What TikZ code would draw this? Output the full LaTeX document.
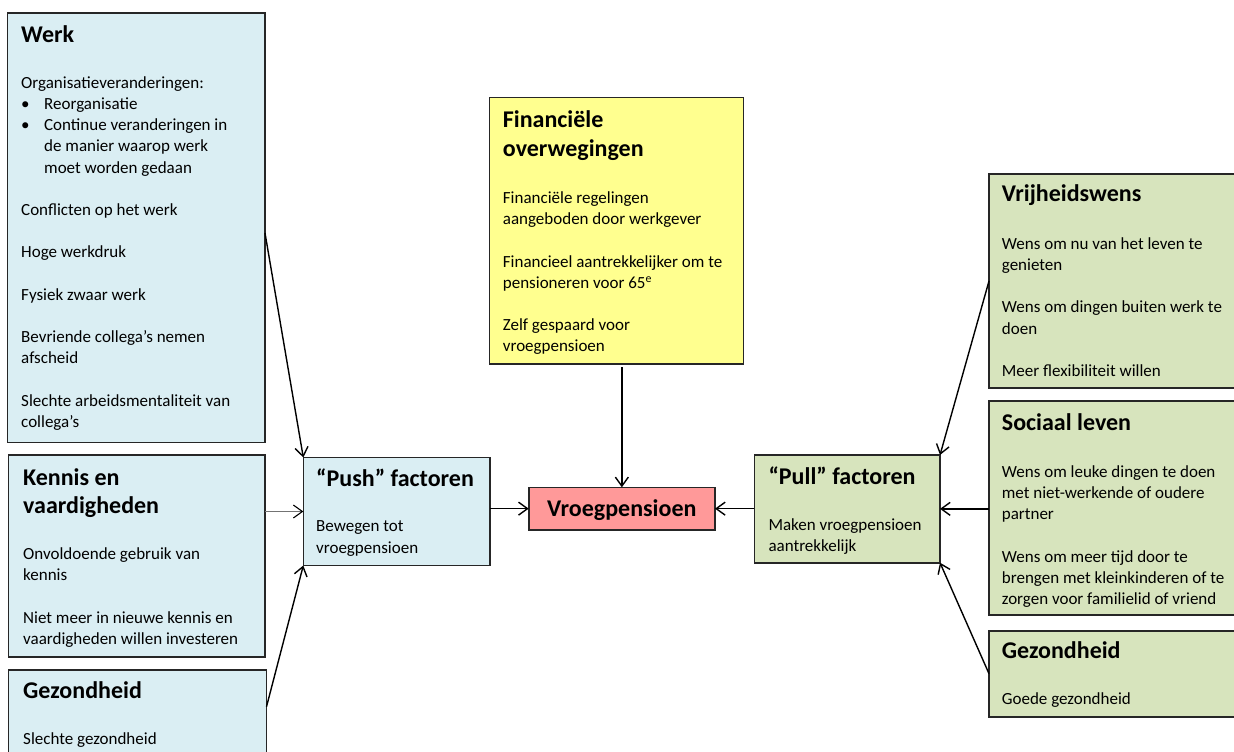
\documentclass[tikz,border=0pt]{standalone}
\usepackage{fontspec}
\setmainfont{Carlito}
\usetikzlibrary{arrows.meta,calc}
\definecolor{bluef}{HTML}{DAEEF3}
\definecolor{greenf}{HTML}{D7E4BD}
\definecolor{yellowf}{HTML}{FFFF8F}
\definecolor{redf}{HTML}{FF9999}
\definecolor{edgec}{HTML}{262626}
\newcommand{\bul}{\makebox[23pt][l]{\textbullet}}
\begin{document}
\begin{tikzpicture}[x=1pt,y=-1pt,
  box/.style={draw=edgec, line width=1.6pt, inner sep=0pt, outer sep=0pt, rectangle},
  ttl/.style={anchor=north west, inner sep=0pt, align=left, yshift=20.1pt, font=\fontsize{24}{28.7}\selectfont\bfseries},
  bdy/.style={anchor=north west, inner sep=0pt, align=left, yshift=14.84pt, font=\fontsize{17}{21.2}\selectfont},
  conn/.style={line width=1.4pt, -{Straight Barb[length=9pt,width=13pt,color=black]}}]
\clip (0,0) rectangle (1234,752);
\fill[white] (0,0) rectangle (1234,752);
% boxes
\node[box, fill=bluef, minimum width=257.5pt, minimum height=429.5pt] (werk) at (136.25,227.75) {};
\node[box, fill=bluef, minimum width=256.5pt, minimum height=202pt] (kennis) at (136.75,556) {};
\node[box, fill=bluef, minimum width=258pt, minimum height=130pt] (gezL) at (137.5,735) {};
\node[box, fill=bluef, minimum width=186.7pt, minimum height=108pt] (push) at (396.65,511.5) {};
\node[box, fill=redf, minimum width=186.3pt, minimum height=42.7pt, text height=16pt, text depth=1pt, font=\fontsize{24}{28.7}\selectfont\bfseries] (vroeg) at (621.85,508.65) {Vroegpensioen};
\node[box, fill=yellowf, minimum width=253.8pt, minimum height=266.7pt] (fin) at (616.4,230.65) {};
\node[box, fill=greenf, minimum width=185.7pt, minimum height=107.7pt] (pull) at (847.15,508.85) {};
\node[box, fill=greenf, minimum width=261pt, minimum height=214pt] (vrij) at (1119.5,281) {};
\node[box, fill=greenf, minimum width=261pt, minimum height=214.3pt] (soc) at (1119.5,507.85) {};
\node[box, fill=greenf, minimum width=261pt, minimum height=86pt] (gezR) at (1119.5,673.7) {};
% texts
\node[ttl] (werkT) at (21,42) {\strut Werk};
\node[bdy] (werkB) at (21,88) {\strut Organisatieveranderingen:\\
\bul Reorganisatie\\
\bul Continue veranderingen in\\
\hspace*{23pt}de manier waarop werk\\
\hspace*{23pt}moet worden gedaan\\[21.2pt]
Conflicten op het werk\\[21.2pt]
Hoge werkdruk\\[21.2pt]
Fysiek zwaar werk\\[21.2pt]
Bevriende collega’s nemen\\
afscheid\\[21.2pt]
Slechte arbeidsmentaliteit van\\
collega’s};
\node[ttl] (kennisT) at (23,485) {\strut Kennis en\\vaardigheden};
\node[bdy] (kennisB) at (23,559.5) {\strut Onvoldoende gebruik van\\
kennis\\[21.2pt]
Niet meer in nieuwe kennis en\\
vaardigheden willen investeren};
\node[ttl] (gezLT) at (23,698.3) {\strut Gezondheid};
\node[bdy] (gezLB) at (23,744) {\strut Slechte gezondheid};
\node[ttl] (pushT) at (316,486.7) {\strut “Push” factoren};
\node[bdy] (pushB) at (316,531.7) {\strut Bewegen tot\\vroegpensioen};
\node[ttl] (finT) at (502.7,127.3) {\strut Financiële\\overwegingen};
\node[bdy] (finB) at (502.7,203.3) {\strut Financiële regelingen\\
aangeboden door werkgever\\[21.2pt]
Financieel aantrekkelijker om te\\
pensioneren voor 65\textsuperscript{e}\\[21.2pt]
Zelf gespaard voor\\
vroegpensioen};
\node[ttl] (pullT) at (768.3,484.3) {\strut “Pull” factoren};
\node[bdy] (pullB) at (768.3,530.5) {\strut Maken vroegpensioen\\aantrekkelijk};
\node[ttl] (vrijT) at (1001.7,201.7) {\strut Vrijheidswens};
\node[bdy] (vrijB) at (1001.7,249) {\strut Wens om nu van het leven te\\
genieten\\[21.2pt]
Wens om dingen buiten werk te\\
doen\\[21.2pt]
Meer flexibiliteit willen};
\node[ttl] (socT) at (1001.7,430) {\strut Sociaal leven};
\node[bdy] (socB) at (1001.7,477.3) {\strut Wens om leuke dingen te doen\\
met niet-werkende of oudere\\
partner\\[21.2pt]
Wens om meer tijd door te\\
brengen met kleinkinderen of te\\
zorgen voor familielid of vriend};
\node[ttl] (gezRT) at (1001.7,658.3) {\strut Gezondheid};
\node[bdy] (gezRB) at (1001.7,704) {\strut Goede gezondheid};
% connectors
\draw[conn] ([yshift=-5.25pt]werk.east) -- (push.north west);
\draw[conn, draw=black!55, line width=1.1pt] (kennis.east |- push.west) -- (push.west);
\draw[conn] ([yshift=28.3pt]gezL.east) -- (push.south west);
\draw[conn] (push.east |- vroeg.west) -- (vroeg.west);
\draw[conn] ($(vroeg.north |- fin.south)+(0,3)$) -- (vroeg.north);
\draw[conn] (pull.west |- vroeg.east) -- (vroeg.east);
\draw[conn] (vrij.west) -- (pull.north east);
\draw[conn] (soc.west |- pull.east) -- (pull.east);
\draw[conn] (gezR.west) -- (pull.south east);
\end{tikzpicture}
\end{document}
